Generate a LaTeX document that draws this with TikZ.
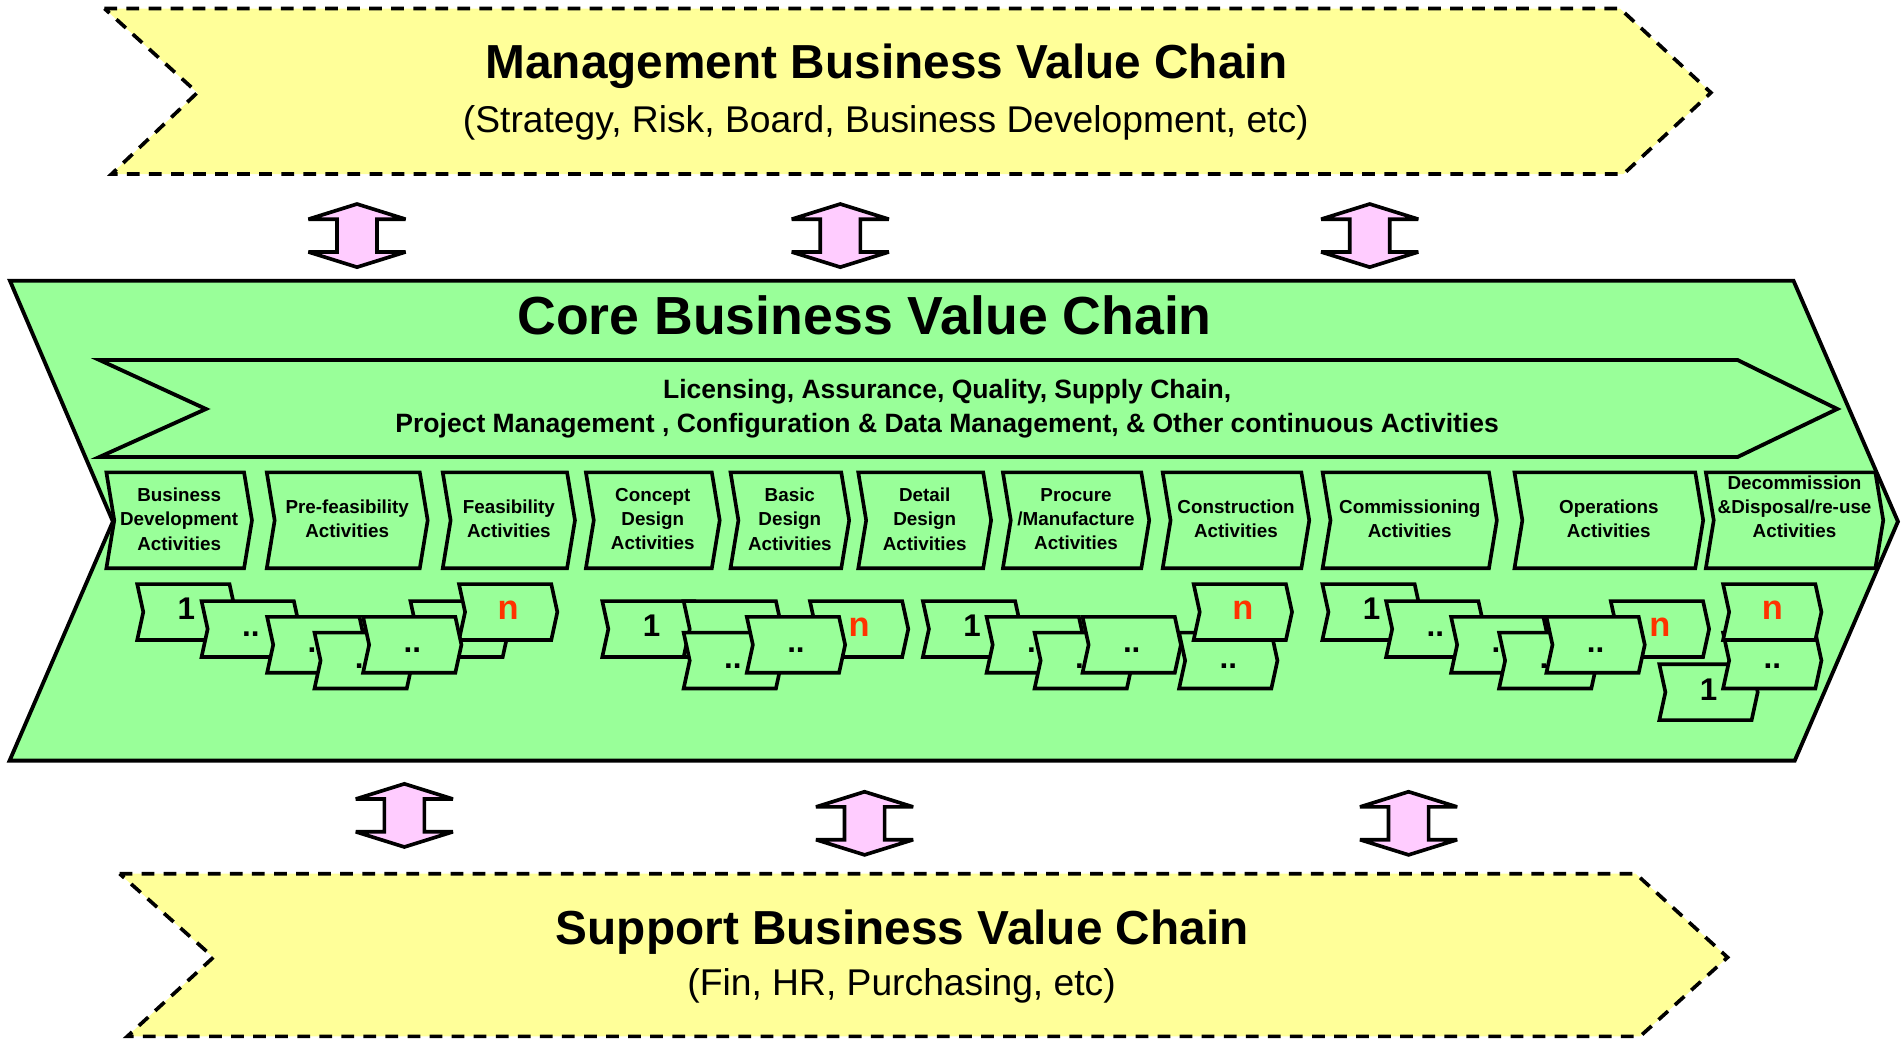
\documentclass[tikz,border=0pt]{standalone}
\usepackage{fontspec}
\setmainfont{Liberation Sans}

\definecolor{chainyellow}{HTML}{FFFF99}
\definecolor{chaingreen}{HTML}{99FF99}
\definecolor{linkpink}{HTML}{FFCCFF}
\definecolor{countred}{HTML}{FF3300}

% chevron outline: style, left x, top y, width, height, point depth
\newcommand{\vcchev}[6]{%
  \draw[#1] (#2,#3) -- ++({#4},0) -- ++({#6},{(#5)/2}) -- ++({-(#6)},{(#5)/2})
    -- ++({-(#4)},0) -- ++({#6},{-(#5)/2}) -- cycle;}

% lifecycle stage: name, left x, top-right x, label, label centre y
\newcommand{\vcstage}[5]{%
  \vcchev{stagebox}{#2}{389}{(#3)-(#2)}{79}{6.5}
  \node[stagetext] (#1) at ({((#2)+(#3))/2+3.25},#5) {#4};}

% work item: name, left x, top y, label style, label
\newcommand{\vcitem}[5]{%
  \vcchev{itembox}{#2}{#3}{76}{46}{5}
  \node[#4] (#1) at ({(#2)+40.5},{(#3)+29.5}) {#5};}

% two-way block arrow: name, centre x, top y
\newcommand{\vclink}[3]{%
  \draw[link] (#2,#3) -- ++(40,12.5) -- ++(-23.5,0) -- ++(0,27) -- ++(23.5,0)
    -- ++(-40,12.5) -- ++(-40,-12.5) -- ++(23.5,0) -- ++(0,-27) -- ++(-23.5,0) -- cycle;
  \coordinate (#1) at (#2,{(#3)+26});}

\begin{document}
\begin{tikzpicture}[x=0.6pt,y=-0.6pt,
  outer/.style={draw=black,line width=1.8pt,dash pattern=on 6.3pt off 4.6pt,
    fill=chainyellow,line join=miter},
  core/.style={draw=black,line width=1.9pt,fill=chaingreen,line join=miter},
  stagebox/.style={draw=black,line width=1.8pt,fill=chaingreen,line join=miter},
  itembox/.style={draw=black,line width=1.8pt,fill=chaingreen,line join=miter},
  link/.style={draw=black,line width=1.8pt,fill=linkpink,line join=miter,miter limit=2},
  stagetext/.style={inner sep=0pt,align=center,font=\bfseries\fontsize{9.3}{12}\selectfont},
  itemtext/.style={inner sep=0pt,anchor=base,font=\bfseries\fontsize{15.5}{16}\selectfont},
  itemlast/.style={inner sep=0pt,anchor=base,text=countred,font=\bfseries\fontsize{17}{18}\selectfont},
  headline/.style={inner sep=0pt,anchor=base,font=\bfseries\fontsize{23.6}{26}\selectfont},
  subline/.style={inner sep=0pt,anchor=base,font=\fontsize{18.4}{20}\selectfont},
  coreline/.style={inner sep=0pt,anchor=base,font=\bfseries\fontsize{26.5}{29}\selectfont},
  bannerline/.style={inner sep=0pt,anchor=base,font=\bfseries\fontsize{13.1}{15}\selectfont}
]
\useasboundingbox (0,0) rectangle (1568,856);

% management chain
\draw[outer] (86,7) -- (1334,7) -- (1409,76.3) -- (1337,143.3) -- (91.9,143.3) -- (162.5,76.3) -- cycle;
\node[headline] (mgmt) at (730,64.5) {Management Business Value Chain};
\node[subline] (mgmtsub) at (729.5,109.5) {(Strategy, Risk, Board, Business Development, etc)};

% support chain
\draw[outer] (98.5,719.5) -- (1347,719.5) -- (1422.7,788.4) -- (1350.6,853.5) -- (104.8,853.5) -- (175.7,788.4) -- cycle;
\node[headline] (supp) at (743,778) {Support Business Value Chain};
\node[subline] (suppsub) at (742.5,820) {(Fin, HR, Purchasing, etc)};

% core chain
\draw[core] (8.2,231.2) -- (1477,231.2) -- (1563,429.5) -- (1478,626.4) -- (7.9,626.4) -- (93,429.5) -- cycle;
\node[coreline] (core) at (712,275.5) {Core Business Value Chain};

% continuous activities banner
\draw[core] (82,296.5) -- (1431,296.5) -- (1513,336.8) -- (1431,376.3) -- (82,376.3) -- (169.6,336.8) -- cycle;
\node[bannerline] (contA) at (780,328.5) {Licensing, Assurance, Quality, Supply Chain,};
\node[bannerline] (contB) at (780,356.5) {Project Management , Configuration \& Data Management, \& Other continuous Activities};

% lifecycle stages
\vcstage{sBD}{87.6}{201}{Business\\Development\\Activities}{427.5}
\vcstage{sPF}{219.7}{345.7}{Pre-feasibility\\Activities}{427.5}
\vcstage{sFE}{364.6}{467}{Feasibility\\Activities}{427.5}
\vcstage{sCD}{482.5}{586.2}{Concept\\Design\\Activities}{427.5}
\vcstage{sBA}{601.6}{692.8}{Basic\\Design\\Activities}{427.5}
\vcstage{sDD}{706.8}{809.7}{Detail\\Design\\Activities}{427.5}
\vcstage{sPM}{825.9}{939.9}{Procure\\/Manufacture\\Activities}{427.5}
\vcstage{sCO}{957.5}{1071.7}{Construction\\Activities}{427.5}
\vcstage{sCM}{1089.2}{1226.2}{Commissioning\\Activities}{427.5}
\vcstage{sOP}{1247.2}{1396.1}{Operations\\Activities}{427.5}
\vcstage{sDC}{1404.8}{1544.4}{Decommission\\\&Disposal/re-use\\Activities}{417.5}

% work items, early stages
\vcitem{gA1}{113}{481}{itemtext}{1}
\vcitem{gA2}{166}{495}{itemtext}{..}
\vcitem{gA3}{220}{508}{itemtext}{..}
\vcitem{gA4}{259}{521}{itemtext}{..}
\vcchev{itembox}{338}{495}{76}{46}{5}
\vcitem{gAn}{378}{481}{itemlast}{n}
\vcitem{gA5}{299}{508}{itemtext}{..}

% work items, design stages
\vcitem{gB1}{496}{495}{itemtext}{1}
\vcchev{itembox}{563}{495}{76}{46}{5}
\vcitem{gB3}{563}{521}{itemtext}{..}
\vcitem{gBn}{667}{495}{itemlast}{n}
\vcitem{gB4}{615}{508}{itemtext}{..}

% work items, delivery stages
\vcitem{gC1}{760}{495}{itemtext}{1}
\vcitem{gC2}{812.5}{508}{itemtext}{..}
\vcitem{gC3}{852}{521}{itemtext}{..}
\vcitem{gC5}{971}{521}{itemtext}{..}
\vcitem{gC4}{891.5}{508}{itemtext}{..}
\vcitem{gCn}{983}{481}{itemlast}{n}

% work items, operating stages
\vcitem{gD1}{1089}{481}{itemtext}{1}
\vcitem{gD2}{1141.5}{495}{itemtext}{..}
\vcitem{gD3}{1195}{508}{itemtext}{..}
\vcitem{gD4}{1234.5}{521}{itemtext}{..}
\vcitem{gDn}{1326.5}{495}{itemlast}{n}
\vcitem{gD5}{1273.5}{508}{itemtext}{..}

% work items, end of life
\vcitem{gE1}{1366.5}{547}{itemtext}{1}
\vcitem{gE2}{1419}{521}{itemtext}{..}
\vcitem{gEn}{1419}{481}{itemlast}{n}

% links between the chains
\vclink{lkMA}{294}{168}
\vclink{lkMB}{692}{168}
\vclink{lkMC}{1128}{168}
\vclink{lkSA}{333}{645.5}
\vclink{lkSB}{712}{652}
\vclink{lkSC}{1160}{652}
\end{tikzpicture}
\end{document}
